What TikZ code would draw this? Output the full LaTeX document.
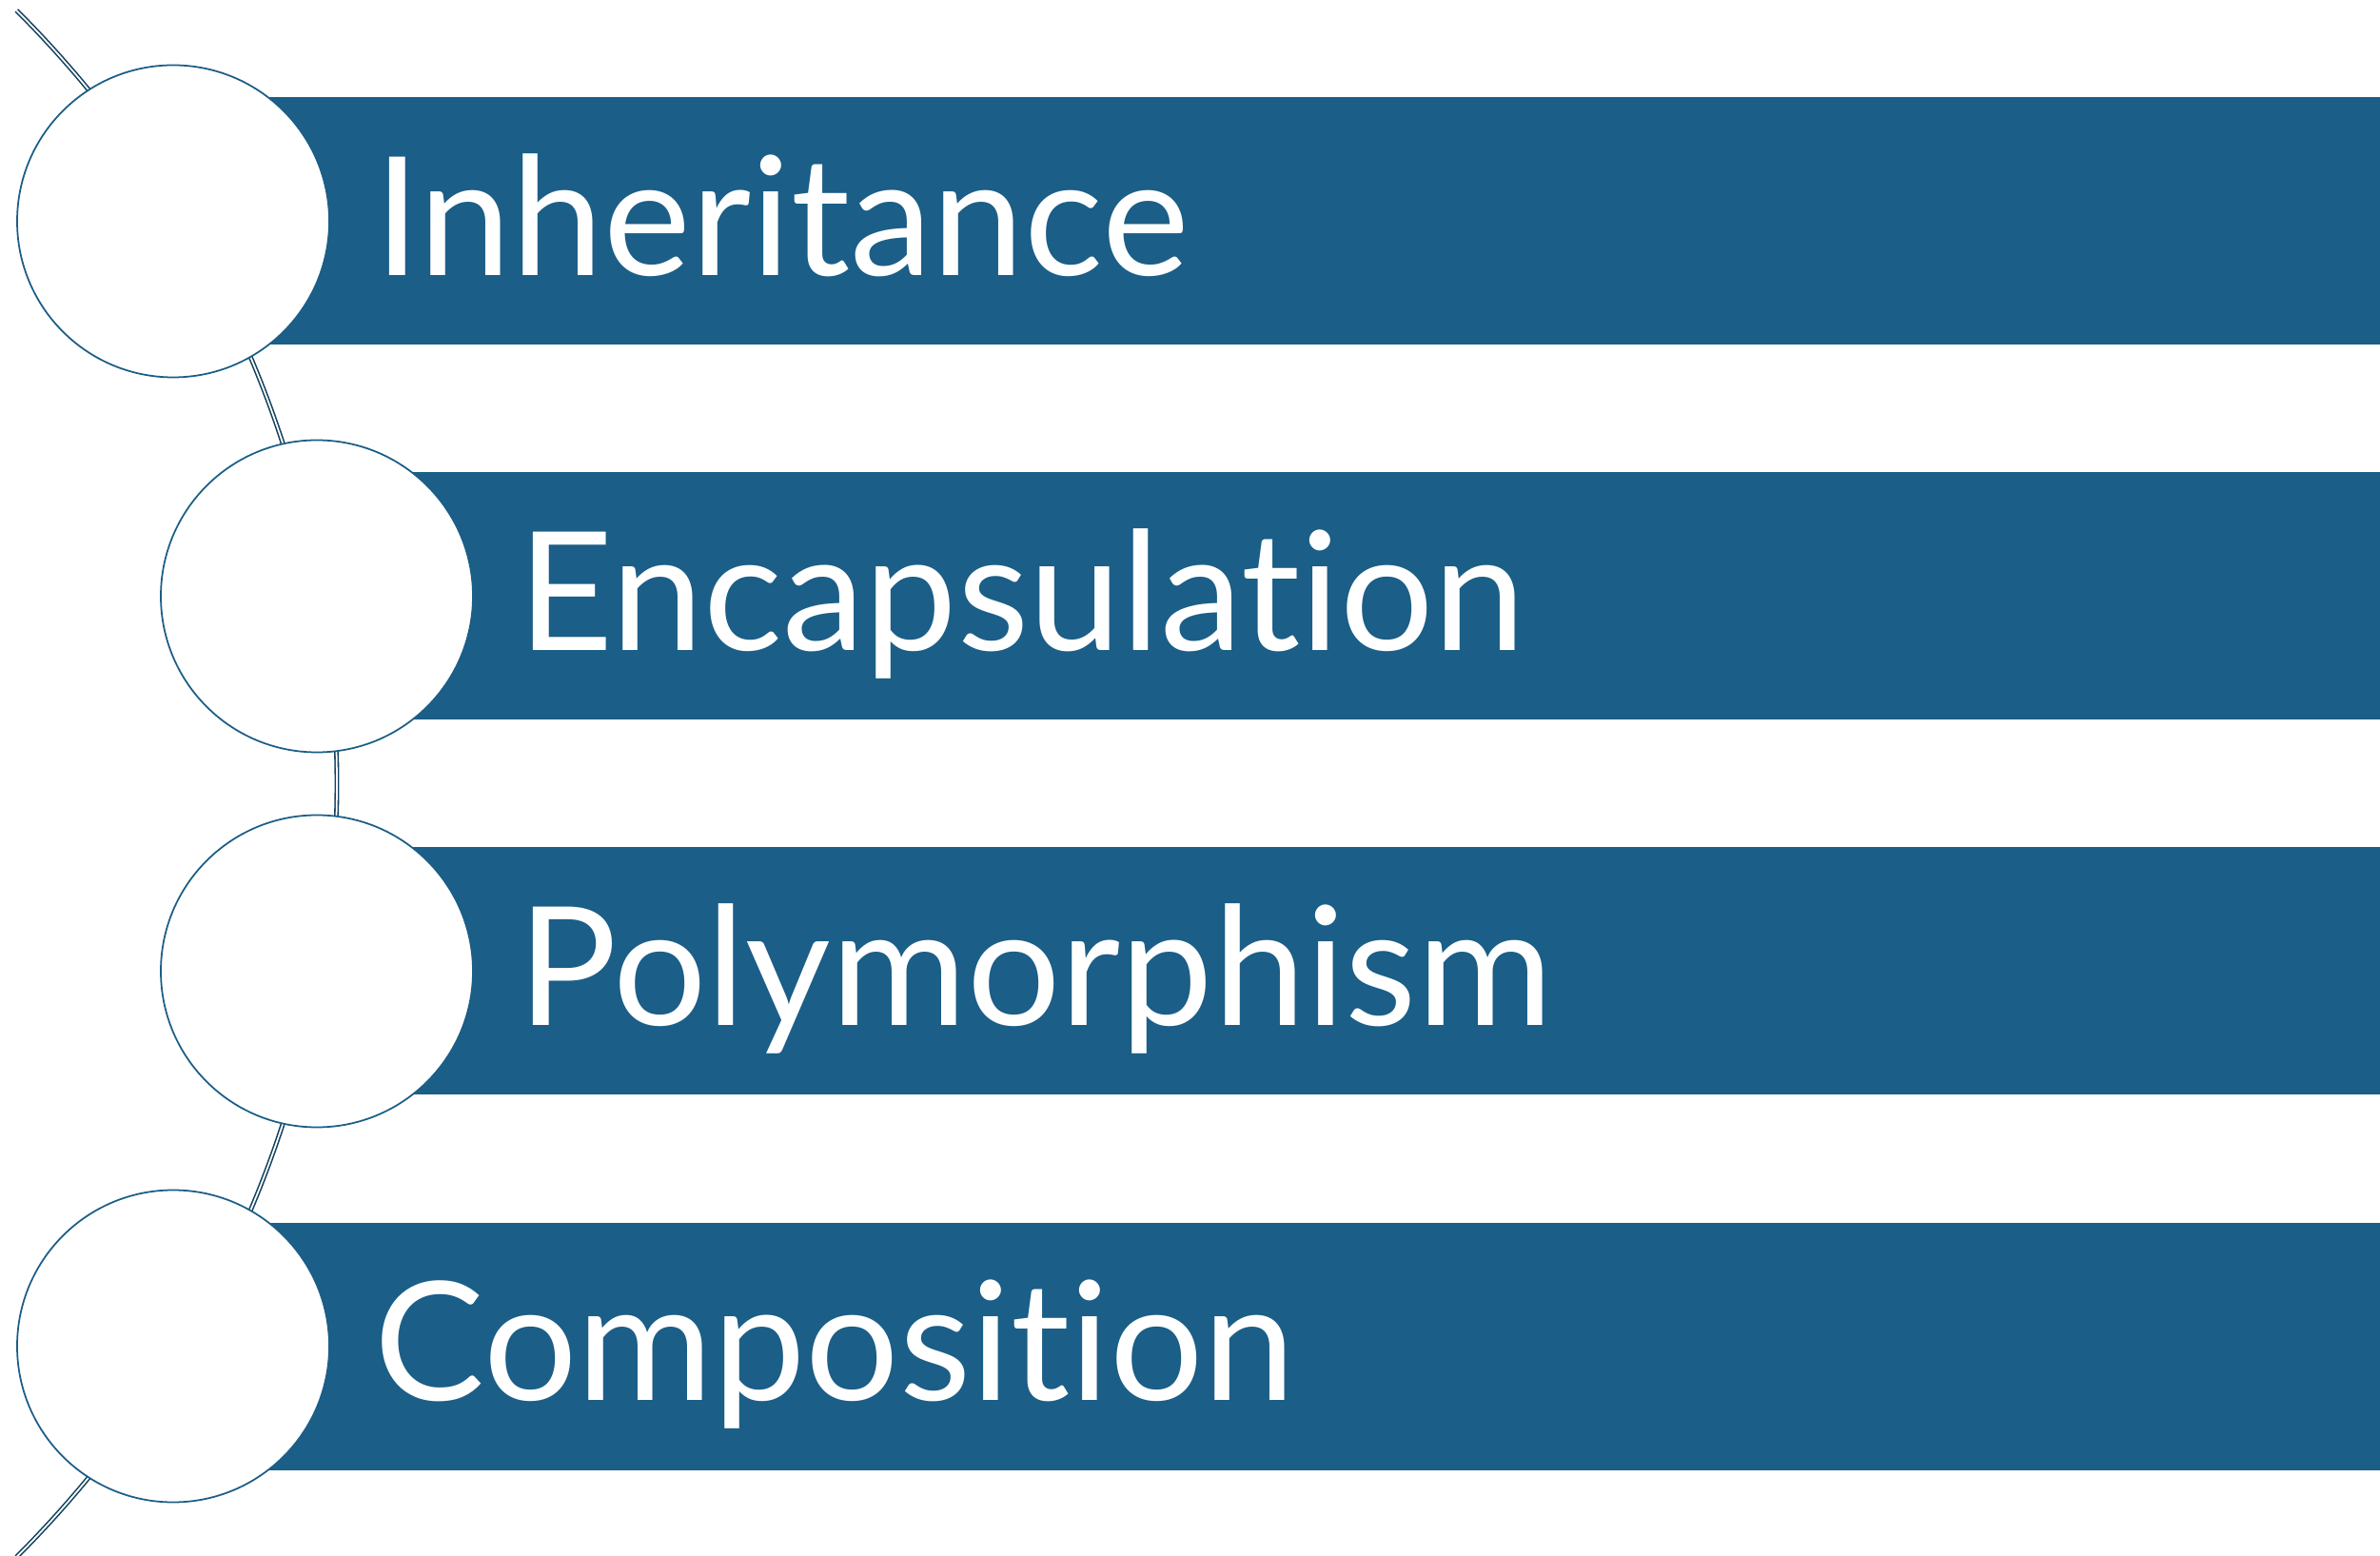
\documentclass[tikz,border=0pt]{standalone}
\usepackage{fontspec}
\setmainfont{Lato}[Ligatures={TeX,NoCommon}]
\usetikzlibrary{positioning}

\definecolor{oopblue}{RGB}{27,94,135}

\tikzset{
    band/.style={fill=oopblue, draw=none, anchor=west, minimum height=2.6cm, inner sep=0pt},
    dot/.style={circle, draw=oopblue, line width=0.5pt, fill=white, minimum size=3.28cm, inner sep=0pt},
    lbl/.style={text=white, inner sep=0pt, anchor=base west, font=\fontsize{49.4}{58}\selectfont},
    spine/.style={draw=oopblue!70!black, line width=0.45pt, double=white, double distance=0.5pt},
}

\begin{document}
\begin{tikzpicture}
\useasboundingbox (0,0) rectangle (25.01,16.34);

    % the curved spine behind the circles
    \draw[spine] (-7.95,8.105) ++(45:11.49) arc[start angle=45, end angle=-45, radius=11.49];

    \foreach \lbl/\cx [count=\i, evaluate=\i as \cy using {14.015-3.94*(\i-1)},
    evaluate=\cx as \bw using {25.01-\cx}] in
    {Inheritance/1.82, Encapsulation/3.33, Polymorphism/3.33, Composition/1.82}
    {
    \node[band, minimum width=\bw cm] (band-\i) at (\cx,\cy) {};
    \node[dot] (dot-\i) at (\cx,\cy) {};
    \node[lbl] (txt-\i) at ([xshift=4.6mm, yshift=-5.7mm]dot-\i.east) {\lbl};
    }

\end{tikzpicture}
\end{document}
